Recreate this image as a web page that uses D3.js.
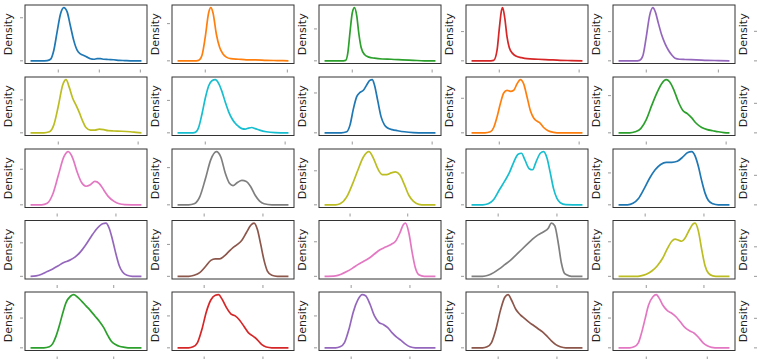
<!DOCTYPE html>
<html><head><meta charset="utf-8">
<script src="https://cdn.jsdelivr.net/npm/d3@7"></script>
<style>html,body{margin:0;padding:0;background:#fff;}svg{display:block;}</style>
</head><body><div id="chart"></div>
<script>
// Density curves: [position along data range (0..1), density relative to peak]
const d01 = [[0,0],[0.1,0],[0.15,0.005],[0.18,0.03],[0.21,0.2],[0.24,0.55],[0.27,0.88],[0.3,1],[0.33,0.92],[0.36,0.65],[0.39,0.38],[0.42,0.2],[0.45,0.13],[0.48,0.1],[0.51,0.07],[0.54,0.04],[0.57,0.03],[0.6,0.04],[0.63,0.04],[0.66,0.03],[0.7,0.025],[0.75,0.02],[0.8,0.01],[0.85,0.005],[0.9,0],[1,0]];
const d02 = [[0,0],[0.15,0],[0.19,0.01],[0.22,0.1],[0.25,0.45],[0.28,0.9],[0.3,1],[0.32,0.9],[0.35,0.5],[0.38,0.25],[0.41,0.13],[0.44,0.07],[0.48,0.04],[0.55,0.03],[0.62,0.02],[0.7,0.02],[0.8,0.01],[0.9,0.005],[1,0]];
const d03 = [[0,0],[0.15,0],[0.19,0.01],[0.21,0.15],[0.23,0.55],[0.25,0.9],[0.27,1],[0.29,0.85],[0.31,0.5],[0.33,0.25],[0.36,0.12],[0.4,0.07],[0.45,0.05],[0.52,0.035],[0.6,0.03],[0.7,0.02],[0.8,0.01],[0.9,0],[1,0]];
const d04 = [[0,0],[0.15,0],[0.2,0.01],[0.23,0.2],[0.25,0.6],[0.27,0.95],[0.28,1],[0.3,0.8],[0.32,0.45],[0.34,0.25],[0.37,0.14],[0.4,0.09],[0.45,0.06],[0.5,0.04],[0.6,0.03],[0.7,0.02],[0.8,0.01],[0.9,0.005],[1,0]];
const d05 = [[0,0],[0.15,0],[0.19,0.01],[0.22,0.1],[0.25,0.45],[0.28,0.85],[0.31,1],[0.33,0.93],[0.36,0.7],[0.39,0.48],[0.42,0.32],[0.45,0.2],[0.48,0.11],[0.51,0.05],[0.55,0.03],[0.6,0.025],[0.7,0.02],[0.8,0.01],[0.9,0.005],[1,0]];
const d06 = [[0,0],[0.12,0],[0.17,0.02],[0.21,0.15],[0.25,0.5],[0.29,0.9],[0.32,1],[0.35,0.85],[0.38,0.65],[0.41,0.52],[0.44,0.38],[0.47,0.22],[0.5,0.1],[0.54,0.05],[0.58,0.05],[0.62,0.07],[0.66,0.06],[0.7,0.04],[0.75,0.035],[0.82,0.03],[0.9,0.02],[0.95,0.01],[1,0]];
const d07 = [[0,0],[0.12,0],[0.16,0.01],[0.19,0.1],[0.22,0.35],[0.25,0.65],[0.28,0.88],[0.31,0.98],[0.34,1],[0.37,0.93],[0.4,0.78],[0.43,0.58],[0.46,0.4],[0.49,0.27],[0.52,0.18],[0.55,0.12],[0.58,0.08],[0.61,0.07],[0.64,0.09],[0.67,0.1],[0.7,0.08],[0.74,0.05],[0.8,0.02],[0.88,0.005],[1,0]];
const d08 = [[0,0],[0.15,0],[0.2,0.02],[0.23,0.15],[0.26,0.45],[0.29,0.68],[0.32,0.76],[0.35,0.8],[0.38,0.9],[0.41,0.99],[0.43,1],[0.45,0.9],[0.48,0.6],[0.51,0.3],[0.54,0.15],[0.57,0.09],[0.61,0.06],[0.66,0.04],[0.72,0.02],[0.8,0.005],[0.9,0],[1,0]];
const d09 = [[0,0],[0.12,0],[0.17,0.02],[0.2,0.1],[0.23,0.3],[0.26,0.55],[0.29,0.75],[0.32,0.8],[0.35,0.78],[0.38,0.8],[0.41,0.92],[0.44,1],[0.47,0.92],[0.5,0.68],[0.53,0.42],[0.56,0.28],[0.59,0.22],[0.62,0.18],[0.65,0.1],[0.69,0.04],[0.74,0.01],[0.8,0],[1,0]];
const d10 = [[0,0],[0.1,0],[0.15,0.02],[0.2,0.08],[0.25,0.25],[0.3,0.52],[0.35,0.77],[0.39,0.93],[0.43,1],[0.46,0.96],[0.5,0.8],[0.54,0.58],[0.58,0.42],[0.62,0.36],[0.66,0.28],[0.7,0.18],[0.75,0.1],[0.8,0.06],[0.85,0.04],[0.9,0.02],[0.95,0.005],[1,0]];
const d11 = [[0,0],[0.1,0],[0.15,0.03],[0.2,0.2],[0.25,0.55],[0.3,0.9],[0.34,1],[0.38,0.88],[0.42,0.62],[0.46,0.42],[0.5,0.35],[0.54,0.38],[0.58,0.44],[0.62,0.4],[0.66,0.28],[0.7,0.16],[0.75,0.07],[0.8,0.02],[0.85,0.005],[1,0]];
const d12 = [[0,0],[0.1,0],[0.15,0.02],[0.2,0.15],[0.25,0.48],[0.3,0.85],[0.35,1],[0.39,0.9],[0.43,0.6],[0.47,0.4],[0.5,0.36],[0.54,0.42],[0.58,0.46],[0.62,0.44],[0.66,0.34],[0.7,0.18],[0.74,0.07],[0.78,0.02],[0.85,0],[1,0]];
const d13 = [[0,0],[0.1,0],[0.14,0.02],[0.2,0.15],[0.25,0.38],[0.3,0.65],[0.35,0.9],[0.4,1],[0.44,0.88],[0.48,0.68],[0.52,0.57],[0.56,0.57],[0.6,0.6],[0.64,0.62],[0.68,0.56],[0.72,0.38],[0.76,0.18],[0.8,0.07],[0.85,0.01],[0.9,0],[1,0]];
const d14 = [[0,0],[0.1,0],[0.15,0.02],[0.2,0.1],[0.25,0.28],[0.3,0.45],[0.34,0.6],[0.38,0.8],[0.42,0.95],[0.45,0.97],[0.48,0.85],[0.52,0.68],[0.55,0.66],[0.58,0.8],[0.62,0.97],[0.65,1],[0.68,0.88],[0.71,0.6],[0.74,0.3],[0.77,0.12],[0.8,0.04],[0.85,0.005],[1,0]];
const d15 = [[0,0],[0.08,0],[0.13,0.03],[0.18,0.12],[0.23,0.3],[0.28,0.5],[0.33,0.66],[0.38,0.76],[0.43,0.8],[0.48,0.8],[0.53,0.82],[0.58,0.9],[0.62,0.98],[0.66,1],[0.69,0.92],[0.72,0.72],[0.75,0.45],[0.78,0.22],[0.81,0.08],[0.85,0.02],[0.9,0],[1,0]];
const d16 = [[0,0],[0.05,0.01],[0.1,0.04],[0.15,0.09],[0.2,0.14],[0.25,0.2],[0.3,0.26],[0.35,0.3],[0.4,0.36],[0.45,0.46],[0.5,0.6],[0.55,0.76],[0.6,0.9],[0.65,0.99],[0.68,1],[0.71,0.9],[0.74,0.68],[0.77,0.42],[0.8,0.2],[0.83,0.08],[0.87,0.02],[0.92,0],[1,0]];
const d17 = [[0,0],[0.1,0],[0.15,0.02],[0.2,0.07],[0.25,0.18],[0.3,0.3],[0.34,0.33],[0.38,0.33],[0.42,0.38],[0.46,0.46],[0.5,0.54],[0.54,0.6],[0.58,0.68],[0.62,0.82],[0.66,0.96],[0.69,1],[0.72,0.88],[0.75,0.6],[0.78,0.3],[0.81,0.1],[0.85,0.02],[0.9,0],[1,0]];
const d18 = [[0,0],[0.1,0.01],[0.15,0.04],[0.2,0.09],[0.25,0.15],[0.3,0.22],[0.35,0.28],[0.4,0.34],[0.45,0.42],[0.5,0.5],[0.55,0.55],[0.6,0.6],[0.64,0.66],[0.68,0.82],[0.71,0.97],[0.73,1],[0.76,0.82],[0.79,0.45],[0.82,0.15],[0.85,0.03],[0.9,0],[1,0]];
const d19 = [[0,0],[0.1,0],[0.15,0.02],[0.2,0.07],[0.25,0.14],[0.3,0.22],[0.35,0.3],[0.4,0.4],[0.45,0.5],[0.5,0.6],[0.55,0.7],[0.6,0.78],[0.65,0.84],[0.69,0.9],[0.72,1],[0.75,0.95],[0.78,0.65],[0.81,0.25],[0.84,0.05],[0.88,0.01],[0.92,0],[1,0]];
const d20 = [[0,0],[0.15,0],[0.2,0.01],[0.25,0.04],[0.3,0.1],[0.35,0.2],[0.4,0.35],[0.44,0.52],[0.48,0.66],[0.51,0.7],[0.54,0.68],[0.57,0.66],[0.6,0.72],[0.64,0.88],[0.67,0.98],[0.69,1],[0.72,0.85],[0.75,0.5],[0.78,0.2],[0.81,0.06],[0.85,0.01],[0.9,0],[1,0]];
const d21 = [[0,0],[0.12,0],[0.17,0.02],[0.2,0.08],[0.23,0.22],[0.26,0.42],[0.29,0.65],[0.32,0.85],[0.36,0.97],[0.39,1],[0.42,0.96],[0.46,0.88],[0.5,0.79],[0.54,0.7],[0.58,0.6],[0.62,0.5],[0.66,0.38],[0.7,0.22],[0.73,0.12],[0.77,0.06],[0.8,0.03],[0.85,0.01],[0.9,0],[1,0]];
const d22 = [[0,0],[0.1,0],[0.14,0.02],[0.18,0.1],[0.22,0.35],[0.26,0.68],[0.3,0.9],[0.34,0.99],[0.37,1],[0.4,0.92],[0.44,0.76],[0.48,0.64],[0.52,0.6],[0.56,0.52],[0.6,0.4],[0.64,0.28],[0.68,0.22],[0.72,0.15],[0.76,0.06],[0.8,0.015],[0.85,0],[1,0]];
const d23 = [[0,0],[0.1,0],[0.14,0.02],[0.18,0.1],[0.22,0.35],[0.26,0.68],[0.3,0.9],[0.34,1],[0.37,0.98],[0.41,0.82],[0.45,0.6],[0.49,0.48],[0.53,0.44],[0.57,0.38],[0.61,0.28],[0.65,0.2],[0.69,0.14],[0.73,0.07],[0.77,0.02],[0.82,0],[1,0]];
const d24 = [[0,0],[0.1,0],[0.14,0.02],[0.18,0.1],[0.22,0.35],[0.26,0.7],[0.3,0.95],[0.33,1],[0.36,0.9],[0.4,0.72],[0.44,0.62],[0.48,0.55],[0.52,0.48],[0.56,0.42],[0.6,0.36],[0.64,0.3],[0.68,0.22],[0.72,0.13],[0.76,0.06],[0.8,0.02],[0.85,0],[1,0]];
const d25 = [[0,0],[0.1,0],[0.14,0.02],[0.18,0.1],[0.21,0.3],[0.24,0.55],[0.27,0.8],[0.31,0.96],[0.34,1],[0.37,0.92],[0.4,0.8],[0.44,0.7],[0.48,0.65],[0.52,0.58],[0.56,0.48],[0.6,0.38],[0.64,0.32],[0.68,0.28],[0.72,0.2],[0.76,0.1],[0.8,0.04],[0.84,0.01],[0.9,0],[1,0]];

const series = [d01,d02,d03,d04,d05,d06,d07,d08,d09,d10,d11,d12,d13,d14,d15,d16,d17,d18,d19,d20,d21,d22,d23,d24,d25];
const colors = ["#1f77b4","#ff7f0e","#2ca02c","#d62728","#9467bd",
                "#bcbd22","#17becf","#1f77b4","#ff7f0e","#2ca02c",
                "#e377c2","#7f7f7f","#bcbd22","#17becf","#1f77b4",
                "#9467bd","#8c564b","#e377c2","#7f7f7f","#bcbd22",
                "#2ca02c","#d62728","#9467bd","#8c564b","#e377c2"];
// y tick values (besides 0), relative to peak
const yTicks = [0.81,0.7,0.6,0.55,0.55, 0.62,0.61,0.75,0.65,0.7, 0.67,0.7,0.64,0.6,0.6, 0.63,0.6,0.65,0.61,0.65, 0.56,0.6,0.6,0.65,0.56];
// x tick positions (relative to data range)
const xTicks = [[0.25,0.62,0.99],[0.25,0.99],[0.25,0.97],[0.25,0.97],[0.25,0.9],
                [0.25,0.97],[0.25,0.97],[0.25,0.97],[0.25,0.97],[0.25,0.97],
                [0.24,0.77],[0.24,0.77],[0.23,0.75],[0.24,0.77],[0.24,0.77],
                [0.24,0.75],[0.24,0.77],[0.24,0.77],[0.24,0.77],[0.25,0.77],
                [0.24,0.75],[0.24,0.77],[0.24,0.77],[0.24,0.77],[0.25,0.8]];
const yLabel = "Density";

const W = 757, H = 359;
const svg = d3.select("#chart").append("svg").attr("width", W).attr("height", H);
const colX0 = c => 25 + 147 * c, pw = 122;
const rowTops = [5, 77, 149, 220.5, 292], ph = 58.5;
const lineGen = d3.line().curve(d3.curveMonotoneX);

series.forEach((data, i) => {
  const r = Math.floor(i / 5), c = i % 5;
  const x0 = colX0(c), y0 = rowTops[r];
  const peak = d3.max(data, d => d[1]);
  const x = d3.scaleLinear().domain([-0.05, 1.05]).range([x0, x0 + pw]);
  const y = d3.scaleLinear().domain([-0.05 * peak, 1.05 * peak]).range([y0 + ph, y0]);
  const g = svg.append("g");
  g.append("path").datum(data)
    .attr("d", lineGen.x(d => x(d[0])).y(d => y(d[1])))
    .attr("fill", "none").attr("stroke", colors[i]).attr("stroke-width", 1.7)
    .attr("stroke-linejoin", "round");
  g.append("rect").attr("x", x0).attr("y", y0).attr("width", pw).attr("height", ph)
    .attr("fill", "none").attr("stroke", "#333").attr("stroke-width", 1);
  [0, yTicks[i]].forEach(v => {
    g.append("line").attr("x1", x0 - 5).attr("x2", x0 - 2).attr("y1", y(v)).attr("y2", y(v))
      .attr("stroke", "#999").attr("stroke-width", 1);
  });
  xTicks[i].forEach(v => {
    g.append("line").attr("x1", x(v)).attr("x2", x(v)).attr("y1", y0 + ph + 6).attr("y2", y0 + ph + 9)
      .attr("stroke", "#999").attr("stroke-width", 1);
  });
  g.append("text").attr("transform", `translate(${x0 - 13},${y0 + ph / 2}) rotate(-90)`)
    .attr("text-anchor", "middle").attr("font-family", "DejaVu Sans").attr("font-size", 11)
    .attr("fill", "#222").text(yLabel);
});
// labels and ticks of the next (cropped) column
rowTops.forEach((y0, r) => {
  const x0 = colX0(5);
  svg.append("text").attr("transform", `translate(${x0 - 13},${y0 + ph / 2}) rotate(-90)`)
    .attr("text-anchor", "middle").attr("font-family", "DejaVu Sans").attr("font-size", 11)
    .attr("fill", "#222").text(yLabel);
  [y0 + ph * 0.955, y0 + ph * 0.45].forEach(yy => {
    svg.append("line").attr("x1", x0 - 6).attr("x2", x0 - 3).attr("y1", yy).attr("y2", yy)
      .attr("stroke", "#999").attr("stroke-width", 1);
  });
});
</script></body></html>
